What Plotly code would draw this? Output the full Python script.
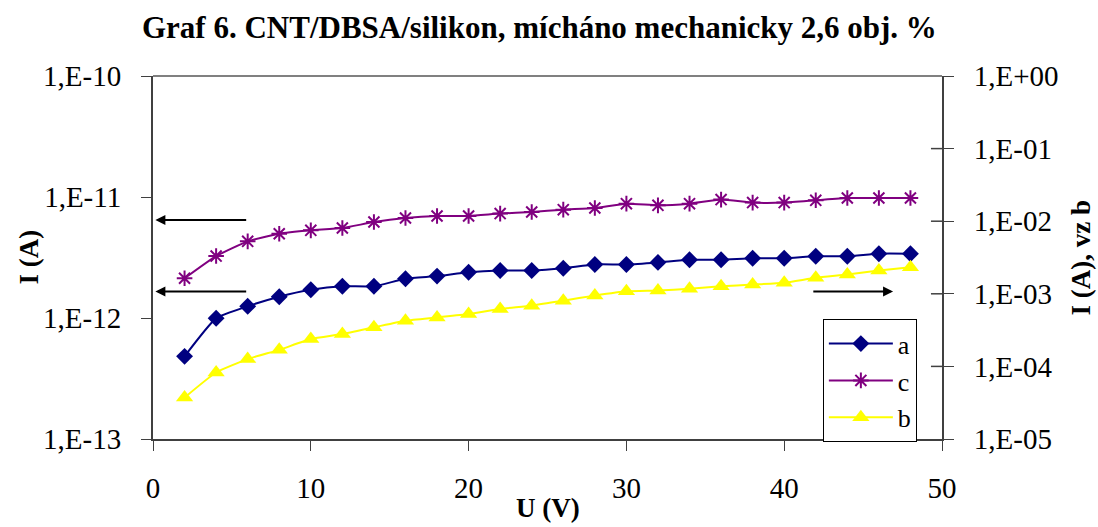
import plotly.graph_objects as go

U = [2, 4, 6, 8, 10, 12, 14, 16, 18, 20, 22, 24, 26, 28, 30, 32, 34, 36, 38, 40, 42, 44, 46, 48]
I_a = [4.82e-13, 9.94e-13, 1.25e-12, 1.50e-12, 1.71e-12, 1.83e-12, 1.83e-12, 2.11e-12,
       2.22e-12, 2.39e-12, 2.47e-12, 2.47e-12, 2.58e-12, 2.77e-12, 2.77e-12, 2.88e-12,
       3.03e-12, 3.03e-12, 3.12e-12, 3.12e-12, 3.24e-12, 3.24e-12, 3.40e-12, 3.40e-12]
I_c = [2.13e-12, 3.25e-12, 4.30e-12, 4.97e-12, 5.30e-12, 5.54e-12, 6.21e-12, 6.70e-12,
       6.96e-12, 6.96e-12, 7.29e-12, 7.51e-12, 7.86e-12, 8.11e-12, 8.81e-12, 8.53e-12,
       8.81e-12, 9.52e-12, 8.99e-12, 8.99e-12, 9.39e-12, 9.81e-12, 9.81e-12, 9.81e-12]
I_b = [3.72e-5, 8.24e-5, 1.26e-4, 1.69e-4, 2.38e-4, 2.79e-4, 3.45e-4, 4.26e-4,
       4.73e-4, 5.27e-4, 6.18e-4, 6.87e-4, 8.05e-4, 9.44e-4, 1.08e-3, 1.11e-3,
       1.17e-3, 1.27e-3, 1.34e-3, 1.42e-3, 1.66e-3, 1.84e-3, 2.09e-3, 2.32e-3]

x_ticks = [0, 10, 20, 30, 40, 50]
left_tickvals = [1e-13, 1e-12, 1e-11, 1e-10]
left_ticktext = ["1,E-13", "1,E-12", "1,E-11", "1,E-10"]
right_tickvals = [1e-5, 1e-4, 1e-3, 1e-2, 1e-1, 1e0]
right_ticktext = ["1,E-05", "1,E-04", "1,E-03", "1,E-02", "1,E-01", "1,E+00"]

FONT = "'Liberation Serif', 'Times New Roman', 'DejaVu Serif', serif"
FS = 29

fig = go.Figure()
fig.add_trace(go.Scatter(x=U, y=I_a, name="a", mode="lines+markers",
                         line=dict(color="#000080", width=2, shape="spline", smoothing=0.5),
                         marker=dict(symbol="diamond", size=13, color="#000080")))
fig.add_trace(go.Scatter(x=U, y=I_c, name="c", mode="lines+markers",
                         line=dict(color="#800080", width=2, shape="spline", smoothing=0.5),
                         marker=dict(symbol="asterisk-open", size=13,
                                     line=dict(color="#800080", width=2))))
fig.add_trace(go.Scatter(x=U, y=I_b, name="b", mode="lines+markers", yaxis="y2",
                         line=dict(color="#FFFF00", width=2, shape="spline", smoothing=0.5),
                         marker=dict(symbol="triangle-up", size=15, color="#FFFF00")))

fig.update_layout(
    width=1098, height=527,
    margin=dict(l=153, r=156, t=76, b=88),
    paper_bgcolor="white", plot_bgcolor="white",
    font=dict(family=FONT, size=FS, color="black"),
    showlegend=True,
    legend=dict(x=0.849, y=0.33, xanchor="left", yanchor="top",
                bordercolor="black", borderwidth=1, bgcolor="white",
                font=dict(family=FONT, size=26), itemwidth=64,
                tracegroupgap=0),
    xaxis=dict(range=[0, 50], tickvals=x_ticks, ticks="outside", ticklen=10,
               tickcolor="#404040", showline=True, linecolor="#404040", linewidth=2,
               showgrid=False, zeroline=False, ticklabelstandoff=12,
               tickfont=dict(family=FONT, size=FS)),
    yaxis=dict(type="log", range=[-13, -10], tickvals=left_tickvals, ticktext=left_ticktext,
               ticks="outside", ticklen=10, tickcolor="#404040", showline=True,
               linecolor="#404040", linewidth=2, showgrid=False, zeroline=False,
               ticklabelstandoff=14, tickfont=dict(family=FONT, size=FS)),
    yaxis2=dict(type="log", range=[-5, 0], tickvals=right_tickvals, ticktext=right_ticktext,
                overlaying="y", side="right", ticks="outside", ticklen=10,
                tickcolor="#404040", showline=True, linecolor="#404040", linewidth=2,
                showgrid=False, zeroline=False, ticklabelstandoff=14,
                tickfont=dict(family=FONT, size=FS)),
)

# top border of plot area
fig.add_shape(type="line", xref="paper", yref="paper", x0=0, x1=1, y0=1, y1=1,
              line=dict(color="#808080", width=2))
# inner tick marks of right axis
for v in right_tickvals[1:-1]:
    fig.add_shape(type="line", xref="paper", yref="y2", x0=0.986, x1=1, y0=v, y1=v,
                  line=dict(color="#404040", width=1.5))

TFONT = dict(family=FONT, size=27)
annotations = [
    dict(text="<b>Graf 6. CNT/DBSA/silikon, mícháno mechanicky 2,6 obj. %</b>",
         xref="paper", yref="paper", x=0.49, y=1.0, yshift=49, showarrow=False,
         xanchor="center", yanchor="middle", font=dict(family=FONT, size=31)),
    dict(text="<b>I (A)</b>", xref="paper", yref="paper", x=0, xshift=-125, y=0.5,
         textangle=-90, showarrow=False, xanchor="center", yanchor="middle", font=TFONT),
    dict(text="<b>I (A), vz b</b>", xref="paper", yref="paper", x=1, xshift=138, y=0.5,
         textangle=-90, showarrow=False, xanchor="center", yanchor="middle", font=TFONT),
    dict(text="<b>U (V)</b>", xref="paper", yref="paper", x=0.5, y=0, yshift=-69,
         showarrow=False, xanchor="center", yanchor="middle", font=TFONT),
    # arrows
    dict(x=0.15, y=-11.19, ax=6.0, ay=-11.19, xref="x", yref="y", axref="x", ayref="y",
         showarrow=True, arrowhead=2, arrowsize=1, arrowwidth=2, arrowcolor="black", text=""),
    dict(x=0.15, y=-11.78, ax=6.0, ay=-11.78, xref="x", yref="y", axref="x", ayref="y",
         showarrow=True, arrowhead=2, arrowsize=1, arrowwidth=2, arrowcolor="black", text=""),
    dict(x=46.9, y=-2.97, ax=41.75, ay=-2.97, xref="x", yref="y2", axref="x", ayref="y2",
         showarrow=True, arrowhead=2, arrowsize=1, arrowwidth=2, arrowcolor="black", text=""),
]
fig.update_layout(annotations=annotations)

fig.write_html("out.html", config={"displayModeBar": False},
               post_script="document.body.style.margin='0';")
